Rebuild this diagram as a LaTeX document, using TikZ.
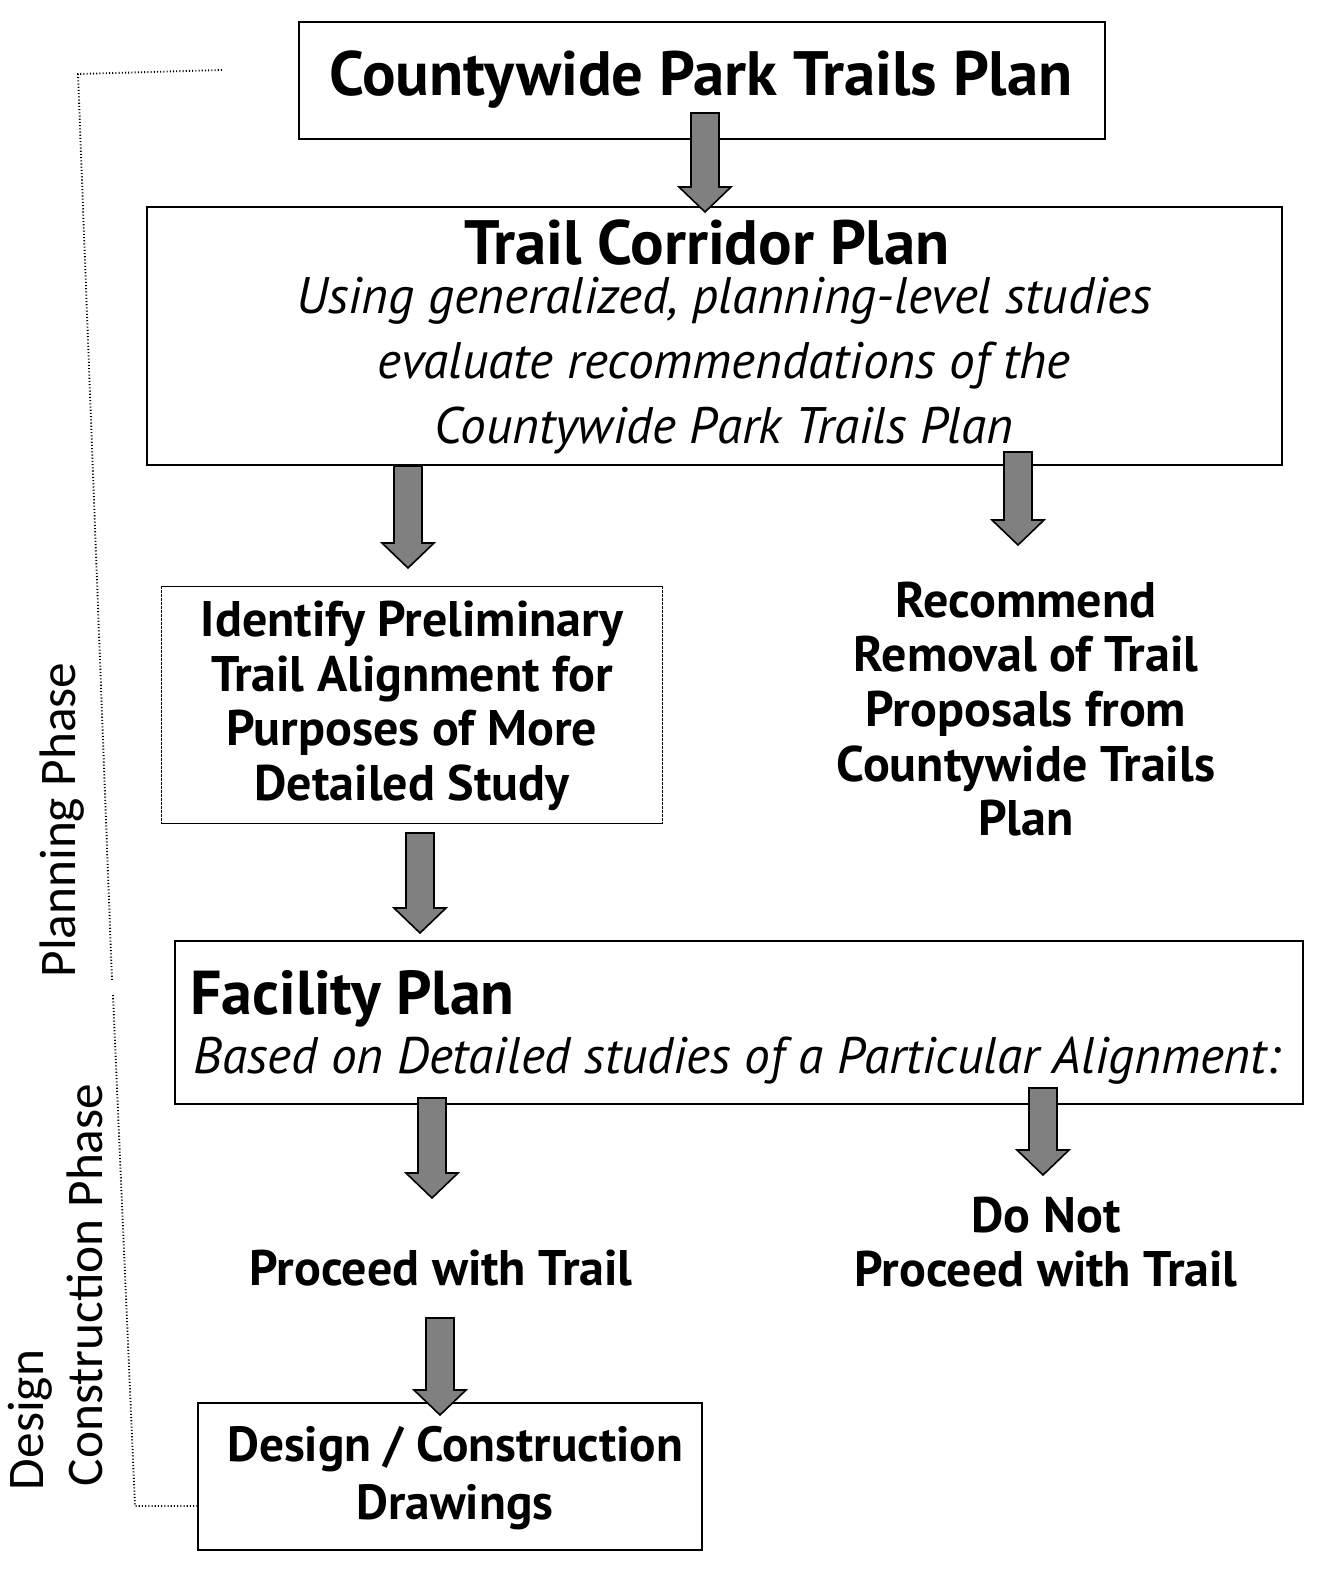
\documentclass[tikz,border=0pt]{standalone}
\usepackage{fontspec}
\setmainfont{PT Sans}
\newfontfamily\phasefont{Carlito}
\usetikzlibrary{calc}

% block arrow: #1 = top of shaft, #2 = tip
\newcommand\blockarrow[2]{%
  \draw[bigarrow] ($(#1)+(-14,0)$) -- ($(#1)+(14,0)$) -- ($(#2)+(14,-25)$)
    -- ($(#2)+(26,-25)$) -- (#2) -- ($(#2)+(-26,-25)$) -- ($(#2)+(-14,-25)$) -- cycle;}

\begin{document}
\begin{tikzpicture}[x=0.75pt,y=-0.75pt,
  box/.style={draw=black,line width=1.5pt,rectangle,inner sep=0pt},
  plainbox/.style={rectangle,inner sep=0pt},
  bigarrow/.style={draw=black,line width=1.2pt,fill=black!50,line join=miter},
  headtext/.style={font=\bfseries\fontsize{#1}{#1}\selectfont,inner sep=0pt},
  bodytext/.style={font=\bfseries\fontsize{37.5}{41}\selectfont,align=center,inner sep=0pt},
  subtext/.style={font=\itshape\fontsize{38.5}{48.75}\selectfont,align=center,inner sep=0pt},
  phase/.style={font=\phasefont\fontsize{38.5}{44}\selectfont,rotate=90,inner sep=0pt},
  bracket/.style={line width=1.4pt,dash pattern=on 0.8pt off 1.6pt}]

\useasboundingbox (0,0) rectangle (1323,1585);

% boxes
\node[box,minimum width=604.5pt,minimum height=87.75pt] (b1) at (702,80) {};
\node[box,minimum width=851.25pt,minimum height=193.5pt] (b2) at (714,336) {};
\node[plainbox,minimum width=375pt,minimum height=177.75pt] (b3) at (412,705) {};
\node[box,minimum width=846pt,minimum height=122.25pt] (b4) at (739,1022) {};
\node[box,minimum width=378pt,minimum height=110.25pt] (b5) at (450,1476) {};

% the preliminary-alignment box has a light outline
\draw[line width=0.8pt] (b3.north west) -- (b3.north east);
\draw[line width=0.8pt] (b3.south west) -- (b3.south east);
\draw[line width=0.6pt,dash pattern=on 2pt off 1pt] (b3.north west) -- (b3.south west);
\draw[line width=0.6pt,dash pattern=on 2pt off 1pt] (b3.north east) -- (b3.south east);

% texts
\node[headtext=47] (t1) at (701,80) {Countywide Park Trails Plan};
\node[headtext=47] (t2) at (707,243) {Trail Corridor Plan};
\node[subtext] (t2s) at (724,366) {Using generalized, planning-level studies\\evaluate recommendations of the\\Countywide Park Trails Plan};
\node[bodytext] (t3) at (412,706) {Identify Preliminary\\Trail Alignment for\\Purposes of More\\Detailed Study};
\node[bodytext] (t4) at (1026,709) {Recommend\\Removal of Trail\\Proposals from\\Countywide Trails\\Plan};
\node[headtext=46.5,anchor=west] (t5) at (190,999) {Facility Plan};
\node[subtext] (t5s) at (737,1061) {Based on Detailed studies of a Particular Alignment:};
\node[bodytext] (t6) at (441,1268) {Proceed with Trail};
\node[bodytext,font=\bfseries\fontsize{37.5}{40}\selectfont] (t7) at (1046,1242) {Do Not\\Proceed with Trail};
\node[bodytext,font=\bfseries\fontsize{37}{43.5}\selectfont] (t8) at (455,1478) {Design / Construction\\Drawings};

% phase labels
\node[phase] (pp) at (62,820) {Planning Phase};
\node[phase] (cp) at (85,1285) {Construction Phase};
\node[phase] (dp) at (30,1420) {Design};

% arrows between stages
\coordinate (a1s) at (705,113);  \coordinate (a1e) at (705,212);
\coordinate (a2s) at (408,466);  \coordinate (a2e) at (408,568);
\coordinate (a3s) at (1018,452); \coordinate (a3e) at (1018,545);
\coordinate (a4s) at (420,833);  \coordinate (a4e) at (420,933);
\coordinate (a5s) at (432,1098); \coordinate (a5e) at (432,1198);
\coordinate (a6s) at (1043,1088);\coordinate (a6e) at (1043,1175);
\coordinate (a7s) at (440,1318); \coordinate (a7e) at (440,1415);
\blockarrow{a1s}{a1e}
\blockarrow{a2s}{a2e}
\blockarrow{a3s}{a3e}
\blockarrow{a4s}{a4e}
\blockarrow{a5s}{a5e}
\blockarrow{a6s}{a6e}
\blockarrow{a7s}{a7e}

% dotted phase bracket
\coordinate (k1) at (222,70);
\coordinate (k2) at (78,74);
\coordinate (k3) at (112,980);
\coordinate (k4) at (113,995);
\coordinate (k5) at (135,1506);
\coordinate (k6) at (b5.west |- k5);
\draw[bracket] (k1) -- (k2) -- (k3);
\draw[bracket] (k4) -- (k5) -- (k6);
\end{tikzpicture}
\end{document}
